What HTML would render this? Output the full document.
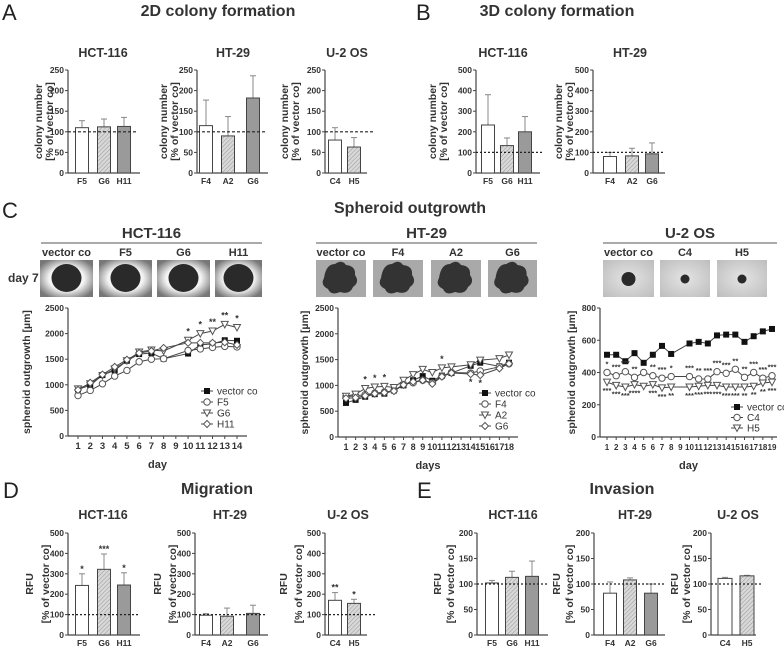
<!DOCTYPE html>
<html><head><meta charset="utf-8"><style>
html,body{margin:0;padding:0;background:#fff;}
svg{display:block;font-family:"Liberation Sans",sans-serif;}
.t{font-weight:bold;fill:#333;}
</style></head><body>
<svg id="fig" width="784" height="648" viewBox="0 0 784 648" xmlns="http://www.w3.org/2000/svg">
<defs>
<pattern id="hatch" width="3" height="3" patternUnits="userSpaceOnUse" patternTransform="rotate(45)">
<rect width="3" height="3" fill="#d8d8d8"/><line x1="0" y1="0" x2="0" y2="3" stroke="#999" stroke-width="1"/></pattern>
<radialGradient id="hctbg" cx="50%" cy="50%" r="60%"><stop offset="0" stop-color="#fff"/><stop offset="0.55" stop-color="#f4f4f4"/><stop offset="1" stop-color="#777"/></radialGradient>
<radialGradient id="u2bg" cx="50%" cy="50%" r="70%"><stop offset="0" stop-color="#e4e4e4"/><stop offset="1" stop-color="#bdbdbd"/></radialGradient>
</defs>
<g font-family="Liberation Sans, sans-serif" font-size="22" fill="#222">
<text x="2" y="20">A</text>
<text x="416" y="20">B</text>
<text x="2" y="218">C</text>
<text x="3" y="498">D</text>
<text x="417" y="498">E</text>
</g>
<g class="t" font-size="16" text-anchor="middle" fill="#222">
<text x="218" y="16">2D colony formation</text>
<text x="557" y="16">3D colony formation</text>
<text x="410" y="213">Spheroid outgrowth</text>
<text x="217" y="494">Migration</text>
<text x="622" y="494">Invasion</text>
</g>
<g id="root"></g>
</svg>
<script>
// ---------- bar chart data ----------
const a1Labels=["F5","G6","H11"], a1Vals=[110,112,113], a1Errs=[17,19,22];
const a2Labels=["F4","A2","G6"], a2Vals=[115,90,182], a2Errs=[62,47,54];
const a3Labels=["C4","H5"], a3Vals=[80,63], a3Errs=[30,23];
const b1Labels=["F5","G6","H11"], b1Vals=[233,133,200], b1Errs=[147,37,74];
const b2Labels=["F4","A2","G6"], b2Vals=[80,83,93], b2Errs=[20,37,53];
const d1Labels=["F5","G6","H11"], d1Vals=[243,322,245], d1Errs=[57,75,60], d1Stars=["*","***","*"];
const d2Labels=["F4","A2","G6"], d2Vals=[97,92,106], d2Errs=[8,40,40];
const d3Labels=["C4","H5"], d3Vals=[170,155], d3Errs=[38,20], d3Stars=["**","*"];
const e1Labels=["F5","G6","H11"], e1Vals=[102,113,115], e1Errs=[5,12,30];
const e2Labels=["F4","A2","G6"], e2Vals=[82,108,82], e2Errs=[22,4,18];
const e3Labels=["C4","H5"], e3Vals=[111,116], e3Errs=[2,1];
const ticks250=[0,50,100,150,200,250], ticks500=[0,100,200,300,400,500], ticks200=[0,50,100,150,200];
// ---------- line chart data ----------
const hctDays=[1,2,3,4,5,6,7,8,10,11,12,13,14];
const hctVector=[910,990,1190,1280,1470,1600,1620,1510,1610,1780,1800,1870,1860];
const hctF5=[790,890,1020,1170,1280,1450,1500,1510,1670,1700,1730,1750,1740];
const hctG6=[920,1020,1180,1310,1470,1640,1680,1660,1870,2000,2050,2180,2120];
const hctH11=[900,1040,1200,1350,1490,1620,1660,1720,1820,1820,1820,1830,1780];
const hctG6Stars=[null,null,null,null,null,null,null,null,"*","*","**","**","*"];
const htDays=[1,2,3,4,5,6,7,8,9,10,11,12,14,15,17,18];
const htVector=[660,720,780,830,840,900,1000,1100,1180,1090,1190,1240,1380,1440,1370,1440];
const htF4=[780,800,820,850,870,900,1020,1050,1100,1050,1180,1250,1240,1280,1360,1420];
const htA2=[790,830,940,970,980,960,1100,1210,1310,1250,1340,1360,1400,1490,1520,1590];
const htG6=[750,760,800,840,860,890,1010,1070,1100,1030,1170,1240,1220,1200,1330,1420];
const htA2Stars=[null,null,"*","*","*",null,null,null,null,null,"*",null,null,null,null,null];
const htG6Stars=[null,null,null,null,null,null,null,null,null,null,null,null,"*","*",null,null];
const u2Days=[1,2,3,4,5,6,7,8,10,11,12,13,14,15,16,17,18,19];
const u2Vector=[510,510,470,520,460,510,565,515,580,590,580,630,635,635,590,625,655,670];
const u2C4=[400,380,405,370,400,380,365,375,375,360,360,405,395,420,370,400,365,380];
const u2H5=[340,320,310,325,315,325,305,310,310,315,320,320,310,310,310,315,335,340];
const u2C4Stars=["*","***","***","**","","**","***","*","***","**","***","***","***","**","**","***","***","***"];
const u2H5Stars=["***","***","***","****","","***","***","**","***","***","***","***","***","***","**","**","**","***"];
const ticksHT=[0,500,1000,1500,2000,2500], ticksU2=[0,200,400,600,800];

const NS="http://www.w3.org/2000/svg", root=document.getElementById('root');
function el(tag,attrs,parent,text){const e=document.createElementNS(NS,tag);for(const k in attrs)e.setAttribute(k,attrs[k]);if(text!==undefined)e.textContent=text;(parent||root).appendChild(e);return e;}
const fills=["#fff","url(#hatch)","#9a9a9a"];

function barChart(name,c,labels,vals,errs,ticks,stars){
  const g=el('g',{});
  
  
  const max=ticks[ticks.length-1];
  const y=v=>c.bot-v/max*(c.bot-c.top);
  const t=el('text',{x:c.tx,y:c.ty,'font-size':12.5,'text-anchor':'middle','class':'t',fill:'#222'},g,c.title);
  
  
  [c.l1,c.l2].forEach((s,i)=>{const lx=i==0?c.yl1:c.yl2;const yl=el('text',{x:lx,y:(c.top+c.bot)/2,'font-size':10.5,'text-anchor':'middle','class':'t',transform:`rotate(-90 ${lx} ${(c.top+c.bot)/2})`},g,s);
    
    });
  el('line',{x1:c.ax,y1:c.top,x2:c.ax,y2:c.bot,stroke:'#444','stroke-width':1.2},g);
  el('line',{x1:c.ax,y1:c.bot,x2:c.xend,y2:c.bot,stroke:'#444','stroke-width':1.2},g);
  ticks.forEach(tv=>{el('line',{x1:c.ax-3,y1:y(tv),x2:c.ax,y2:y(tv),stroke:'#444'},g);
    const tl=el('text',{x:c.ax-4,y:y(tv)+3,'font-size':8.5,'text-anchor':'end','class':'t'},g,tv);
    
    });
  vals.forEach((v,i)=>{const cx=c.cx[i],w=c.bw;
    const top=y(v+errs[i]);
    el('line',{x1:cx,y1:y(v),x2:cx,y2:top,stroke:'#888'},g);
    el('line',{x1:cx-3,y1:top,x2:cx+3,y2:top,stroke:'#888'},g);
    const r=el('rect',{x:cx-w/2,y:y(v),width:w,height:c.bot-y(v),fill:fills[i],stroke:'#444','stroke-width':1},g);
    
    
    const xl=el('text',{x:cx,y:c.bot+11,'font-size':8.5,'text-anchor':'middle','class':'t'},g,labels[i]);
    
    
    if(stars&&stars[i]){const s=el('text',{x:cx,y:top-2,'font-size':9,'text-anchor':'middle','class':'t'},g,stars[i]);
      
      }
  });
  const d=el('line',{x1:c.ax,y1:y(100),x2:c.dash,y2:y(100),stroke:'#222','stroke-dasharray':c.dd||'3,2','stroke-width':1.2},g);
  
  
}
const CN="colony number", PV="[% of vector co]";
barChart('chart-2d-hct116',{title:'HCT-116',tx:103,ty:57,top:70,bot:173,ax:68,xend:140,cx:[82,104,124],bw:13,dash:138,l1:CN,l2:PV,yl1:42,yl2:53},a1Labels,a1Vals,a1Errs,ticks250);
barChart('chart-2d-ht29',{title:'HT-29',tx:233,ty:57,top:70,bot:173,ax:197,xend:268,cx:[206,228,253],bw:13,dash:267,l1:CN,l2:PV,yl1:167,yl2:178},a2Labels,a2Vals,a2Errs,ticks250);
barChart('chart-2d-u2os',{title:'U-2 OS',tx:347,ty:57,top:70,bot:173,ax:325,xend:367,cx:[335,354],bw:13,dash:375,l1:CN,l2:PV,yl1:288,yl2:299},a3Labels,a3Vals,a3Errs,ticks250);
barChart('chart-3d-hct116',{title:'HCT-116',tx:503,ty:57,top:70,bot:173,ax:476,xend:540,cx:[488,507,525],bw:13,dash:542,l1:CN,l2:PV,yl1:436,yl2:447,dd:'2,2'},b1Labels,b1Vals,b1Errs,ticks500);
barChart('chart-3d-ht29',{title:'HT-29',tx:630,ty:57,top:70,bot:173,ax:593,xend:665,cx:[610,632,652],bw:13,dash:665,l1:CN,l2:PV,yl1:562,yl2:573,dd:'2,2'},b2Labels,b2Vals,b2Errs,ticks500);
barChart('chart-migration-hct116',{title:'HCT-116',tx:103,ty:519,top:533,bot:635,ax:68,xend:140,cx:[82,104,124],bw:13,dash:138,l1:'RFU',l2:PV,yl1:33,yl2:49,dd:'2,2'},d1Labels,d1Vals,d1Errs,ticks500,d1Stars);
barChart('chart-migration-ht29',{title:'HT-29',tx:230,ty:519,top:533,bot:635,ax:195,xend:268,cx:[206,227,253],bw:13,dash:267,l1:'RFU',l2:PV,yl1:161,yl2:176,dd:'2,2'},d2Labels,d2Vals,d2Errs,ticks500);
barChart('chart-migration-u2os',{title:'U-2 OS',tx:348,ty:519,top:533,bot:635,ax:325,xend:367,cx:[335,354],bw:13,dash:375,l1:'RFU',l2:PV,yl1:287,yl2:302,dd:'2,2'},d3Labels,d3Vals,d3Errs,ticks500,d3Stars);
barChart('chart-invasion-hct116',{title:'HCT-116',tx:513,ty:519,top:533,bot:635,ax:477,xend:548,cx:[492,512,532],bw:13,dash:547,l1:'RFU',l2:PV,yl1:441,yl2:454,dd:'2,2'},e1Labels,e1Vals,e1Errs,ticks200);
barChart('chart-invasion-ht29',{title:'HT-29',tx:635,ty:519,top:533,bot:635,ax:594,xend:665,cx:[610,630,651],bw:13,dash:665,l1:'RFU',l2:PV,yl1:560,yl2:573,dd:'2,2'},e2Labels,e2Vals,e2Errs,ticks200);
barChart('chart-invasion-u2os',{title:'U-2 OS',tx:738,ty:519,top:533,bot:635,ax:711,xend:756,cx:[725,747],bw:14,dash:762,l1:'RFU',l2:PV,yl1:678,yl2:690,dd:'2,2'},e3Labels,e3Vals,e3Errs,ticks200);

// ---------- spheroid images ----------
function cellHeader(name,title,x1,x2,labels,imgs,kind){
  const g=el('g',{});
  
  
  const t=el('text',{x:(x1+x2)/2,y:238,'font-size':15,'text-anchor':'middle','class':'t',fill:'#222'},g,title);
  
  
  el('line',{x1:x1,y1:243,x2:x2,y2:243,stroke:'#555'},g);
  imgs.forEach((im,i)=>{const cx=(im[0]+im[1])/2;
    const lt=el('text',{x:cx,y:256,'font-size':11,'text-anchor':'middle','class':'t',fill:'#222'},g,labels[i]);
    
    
    const bg=kind=='hct'?'url(#hctbg)':kind=='ht'?'#a9a9a9':'url(#u2bg)';
    const r=el('rect',{x:im[0],y:260,width:im[1]-im[0],height:37,fill:bg},g);
    
    
    if(kind=='hct'){el('ellipse',{cx:cx,cy:278,rx:15,ry:14,fill:'#2a2a2a'},g);}
    else if(kind=='ht'){el('path',{d:`M${cx-17},${278} q2,-14 11,-14 q7,-5 11,1 q10,1 9,10 q5,7 -2,12 q-3,8 -13,5 q-9,4 -12,-3 q-8,-4 -4,-11z`,fill:'#333'},g);}
    else {el('circle',{cx:cx,cy:279,r:i==0?7:4.5,fill:'#2a2a2a'},g);}
  });
}
cellHeader('hct116-images','HCT-116',41,262,['vector co','F5','G6','H11'],[[40,93],[99,152],[157,210],[215,262]],'hct');
cellHeader('ht29-images','HT-29',316,537,['vector co','F4','A2','G6'],[[316,366],[373,423],[431,481],[488,537]],'ht');
cellHeader('u2os-images','U-2 OS',603,777,['vector co','C4','H5'],[[603,654],[660,710],[717,767]],'u2');
const d7=el('text',{x:8,y:282,'font-size':12,'class':'t',fill:'#222'},root,'day 7');



// ---------- line charts ----------
function marker(g,kind,x,y){
  if(kind=='sq') return el('rect',{x:x-3,y:y-3,width:6,height:6,fill:'#111'},g);
  if(kind=='ci') return el('circle',{cx:x,cy:y,r:3.2,fill:'#fff',stroke:'#555','stroke-width':1},g);
  if(kind=='tr') return el('path',{d:`M${x-3.5},${y-3} L${x+3.5},${y-3} L${x},${y+3.5}Z`,fill:'#fff',stroke:'#555','stroke-width':1},g);
  return el('path',{d:`M${x},${y-3.5} L${x+3.5},${y} L${x},${y+3.5} L${x-3.5},${y}Z`,fill:'#fff',stroke:'#555','stroke-width':1},g);
}
function lineChart(name,c,days,series,kinds,names,ticks,starSets){
  const g=el('g',{});
  
  
  const max=ticks[ticks.length-1];
  const y=v=>c.bot-v/max*(c.bot-c.top);
  const x=d=>c.x1+(d-1)*(c.xN-c.x1)/(c.nd-1);
  el('line',{x1:c.ax,y1:c.top,x2:c.ax,y2:c.bot,stroke:'#444','stroke-width':1.2},g);
  el('line',{x1:c.ax,y1:c.bot,x2:c.xend,y2:c.bot,stroke:'#444','stroke-width':1.2},g);
  ticks.forEach(tv=>{el('line',{x1:c.ax-3,y1:y(tv),x2:c.ax,y2:y(tv),stroke:'#444'},g);
    const tl=el('text',{x:c.ax-4,y:y(tv)+3,'font-size':8.5,'text-anchor':'end','class':'t'},g,tv);
    
    });
  for(let d=1;d<=c.nd;d++){el('line',{x1:x(d),y1:c.bot,x2:x(d),y2:c.bot+3,stroke:'#444'},g);
    const xl=el('text',{x:x(d),y:c.bot+13,'font-size':c.xfs,'text-anchor':'middle','class':'t'},g,d);
    
    }
  const yl=el('text',{x:c.ylx,y:(c.top+c.bot)/2,'font-size':10.5,'text-anchor':'middle','class':'t',transform:`rotate(-90 ${c.ylx} ${(c.top+c.bot)/2})`},g,'spheroid outgrowth [µm]');
  
  
  const xt=el('text',{x:(c.ax+c.xend)/2,y:c.bot+32,'font-size':11,'text-anchor':'middle','class':'t'},g,c.xtitle);
  
  
  series.forEach((s,si)=>{
    const p=el('polyline',{points:s.map((v,i)=>x(days[i])+','+y(v)).join(' '),fill:'none',stroke:'#444','stroke-width':1},g);
    
    
  });
  series.forEach((s,si)=>{s.forEach((v,i)=>{const m=marker(g,kinds[si],x(days[i]),y(v));
    
    });});
  (starSets||[]).forEach(ss=>{ss.stars.forEach((st,i)=>{if(!st)return;
    const sy=ss.above?y(ss.vals[i])-6:y(ss.vals[i])+11;
    const t=el('text',{x:x(days[i]),y:sy,'font-size':ss.fs||9,'text-anchor':'middle','class':'t',fill:'#444'},g,st);
    
    });});
  names.forEach((n,i)=>{const ly=c.ly+i*c.lsp;
    el('line',{x1:c.lx-6,y1:ly,x2:c.lx+6,y2:ly,stroke:'#444'},g);
    marker(g,kinds[i],c.lx,ly);
    const lt=el('text',{x:c.lx+10,y:ly+3.5,'font-size':10,fill:'#333'},g,n);
    
    });
}
lineChart('chart-spheroid-hct116',{top:308,bot:436,ax:68,xend:247,x1:78,xN:237,nd:14,xfs:9.5,ylx:30,xtitle:'day',lx:207,ly:391,lsp:11},
  hctDays,[hctVector,hctF5,hctG6,hctH11],['sq','ci','tr','di'],['vector co','F5','G6','H11'],ticksHT,[{stars:hctG6Stars,vals:hctG6,above:true}]);
lineChart('chart-spheroid-ht29',{top:308,bot:437,ax:338,xend:518,x1:346,xN:509,nd:18,xfs:9,ylx:308,xtitle:'days',lx:485,ly:393,lsp:11},
  htDays,[htVector,htF4,htA2,htG6],['sq','ci','tr','di'],['vector co','F4','A2','G6'],ticksHT,[{stars:htA2Stars,vals:htA2,above:true},{stars:htG6Stars,vals:htG6,above:false}]);
lineChart('chart-spheroid-u2os',{top:308,bot:437,ax:600,xend:777,x1:607,xN:772,nd:19,xfs:8,ylx:575,xtitle:'day',lx:737,ly:407,lsp:10.5},
  u2Days,[u2Vector,u2C4,u2H5],['sq','ci','tr'],['vector co','C4','H5'],ticksU2,[{stars:u2C4Stars,vals:u2C4,above:true,fs:7.5},{stars:u2H5Stars,vals:u2H5,above:false,fs:7.5}]);
</script>
</body></html>
